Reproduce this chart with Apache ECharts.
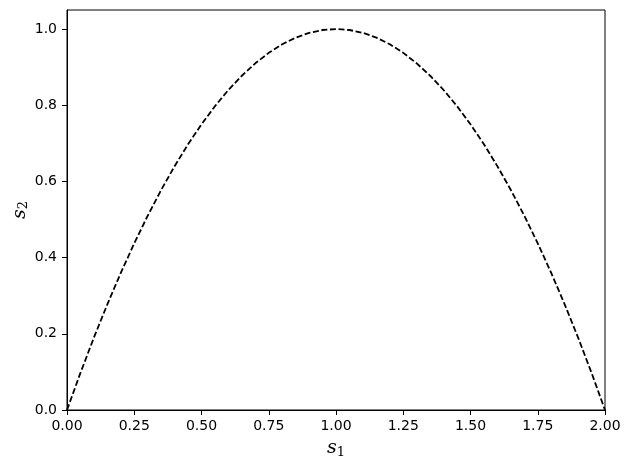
<!DOCTYPE html>
<html>
<head>
<meta charset="utf-8">
<script src="https://cdn.jsdelivr.net/npm/echarts@6/dist/echarts.min.js"></script>
<style>html,body{margin:0;padding:0;background:#fff}#c{width:630px;height:470px}</style>
</head>
<body>
<div id="c"></div>
<script>
const s1Values = [0,0.05,0.1,0.15,0.2,0.25,0.3,0.35,0.4,0.45,0.5,0.55,0.6,0.65,0.7,0.75,0.8,0.85,0.9,0.95,1.0,
  1.05,1.1,1.15,1.2,1.25,1.3,1.35,1.4,1.45,1.5,1.55,1.6,1.65,1.7,1.75,1.8,1.85,1.9,1.95,2.0];
const s2Values = [0,0.0975,0.19,0.2775,0.36,0.4375,0.51,0.5775,0.64,0.6975,0.75,0.7975,0.84,0.8775,0.91,0.9375,0.96,0.9775,0.99,0.9975,1.0,
  0.9975,0.99,0.9775,0.96,0.9375,0.91,0.8775,0.84,0.7975,0.75,0.6975,0.64,0.5775,0.51,0.4375,0.36,0.2775,0.19,0.0975,0];
const xTicks = [0,0.25,0.5,0.75,1.0,1.25,1.5,1.75,2.0];
const yTicks = [0,0.2,0.4,0.6,0.8,1.0];

const chart = echarts.init(document.getElementById('c'), null, {renderer:'canvas'});
const labelFont = {fontFamily:'DejaVu Sans', fontSize:14, color:'#000'};
const nameRich = {
  s:{fontFamily:'DejaVu Serif', fontStyle:'italic', fontSize:19, color:'#000', fill:'#000'},
  sub:{fontFamily:'DejaVu Serif', fontSize:13, color:'#000', fill:'#000', padding:[8,0,0,0]}
};
chart.setOption({
  animation:false,
  grid:{left:67, right:25, top:10, bottom:60, show:true, borderColor:'#000', borderWidth:1,
        containLabel:false, outerBoundsMode:'none'},
  graphic:[{
    type:'text', x:20, y:210, rotation:Math.PI/2,
    style:{text:'{s|s}{sub|2}', rich:nameRich, align:'center', verticalAlign:'middle', fill:'#000'}
  }],
  xAxis:{
    type:'value', min:0, max:2, interval:0.25,
    name:'{s|s}{sub|1}', nameLocation:'middle', nameGap:28, nameMoveOverlap:false,
    nameTextStyle:{rich:nameRich},
    axisLine:{show:true, lineStyle:{color:'#000', width:1}},
    axisTick:{show:true, inside:false, length:5, lineStyle:{color:'#000'}, customValues:xTicks},
    axisLabel:Object.assign({margin:9, formatter:v=>v.toFixed(2), customValues:xTicks}, labelFont),
    splitLine:{show:false}
  },
  yAxis:{
    type:'value', min:0, max:1.05, interval:0.2,
    axisLine:{show:true, lineStyle:{color:'#000', width:1}},
    axisTick:{show:true, inside:false, length:5, lineStyle:{color:'#000'}, customValues:yTicks},
    axisLabel:Object.assign({margin:10, formatter:v=>v.toFixed(1), customValues:yTicks}, labelFont),
    splitLine:{show:false}
  },
  series:[{
    type:'line', showSymbol:false, symbol:'none',
    data:s1Values.map((x,i)=>[x,s2Values[i]]),
    lineStyle:{color:'#000', width:1.8, type:[6,2.6]},
    smooth:false
  }]
});
</script>
</body>
</html>
